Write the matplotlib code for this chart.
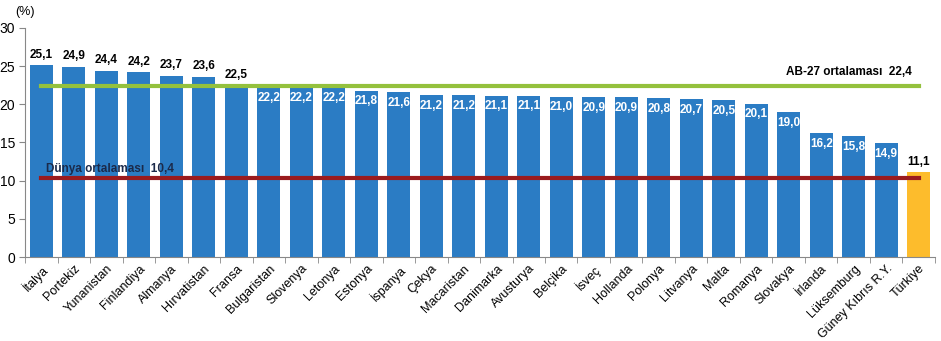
import numpy as np
import matplotlib
matplotlib.use('Agg')
from matplotlib import pyplot as plt

plt.rcParams['font.family'] = ['Liberation Sans', 'DejaVu Sans']

countries = ['İtalya', 'Portekiz', 'Yunanistan', 'Finlandiya', 'Almanya', 'Hırvatistan', 'Fransa',
             'Bulgaristan', 'Slovenya', 'Letonya', 'Estonya', 'İspanya', 'Çekya', 'Macaristan',
             'Danimarka', 'Avusturya', 'Belçika', 'İsveç', 'Hollanda', 'Polonya', 'Litvanya',
             'Malta', 'Romanya', 'Slovakya', 'İrlanda', 'Lüksemburg', 'Güney Kıbrıs R.Y.', 'Türkiye']
values = [25.1, 24.9, 24.4, 24.2, 23.7, 23.6, 22.5, 22.2, 22.2, 22.2, 21.8, 21.6, 21.2, 21.2,
          21.1, 21.1, 21.0, 20.9, 20.9, 20.8, 20.7, 20.5, 20.1, 19.0, 16.2, 15.8, 14.9, 11.1]
eu_avg = 22.4
world_avg = 10.4

blue = '#2B7CC4'
yellow = '#FDBC2C'
green = '#94C13D'
red = '#9A1B1E'

fig = plt.figure(figsize=(9.41, 3.41), dpi=100)
ax = fig.add_axes([0.0266, 0.2463, 0.9670, 0.6717])

x = np.arange(len(countries))
colors = [blue] * (len(countries) - 1) + [yellow]
ax.bar(x, values, width=0.71, color=colors, zorder=2)

ax.plot([x[0], x[-1]], [eu_avg, eu_avg], color=green, lw=3, zorder=3)
ax.plot([x[0], x[-1]], [world_avg, world_avg], color=red, lw=3, zorder=3)

ax.text(x[-1] - 0.2, eu_avg + 1.0, 'AB-27 ortalaması  22,4', ha='right', va='bottom',
        fontsize=8.5, fontweight='bold', color='black')
ax.text(x[0] + 0.15, world_avg + 0.3, 'Dünya ortalaması  10,4', ha='left', va='bottom',
        fontsize=8.5, fontweight='bold', color='#1B2A4A')

for i, v in enumerate(values):
    lab = f'{v:.1f}'.replace('.', ',')
    if i < 7 or i == len(values) - 1:
        ax.text(i, v + 0.6, lab, ha='center', va='bottom', fontsize=8.5, fontweight='bold', color='black')
    else:
        ax.text(i, v - 0.6, lab, ha='center', va='top', fontsize=8.5, fontweight='bold', color='white')

ax.set_xlim(-0.5, len(countries) - 0.5)
ax.set_ylim(0, 30)
ax.set_yticks(np.arange(0, 31, 5))
ax.set_xticks(x)
ax.set_xticklabels(countries, rotation=45, ha='right', rotation_mode='anchor', fontsize=9)
ax.tick_params(axis='x', length=0, pad=4)
ax.set_xticks(np.arange(-0.5, len(countries), 1), minor=True)
ax.tick_params(axis='x', which='minor', length=4, color='#888888')
ax.tick_params(axis='y', labelsize=10, length=4, color='#888888', pad=3)

for s in ['top', 'right']:
    ax.spines[s].set_visible(False)
for s in ['left', 'bottom']:
    ax.spines[s].set_color('#888888')

fig.text(0.016, 0.965, '(%)', fontsize=9, va='center', ha='left')

fig.savefig('out.png', dpi=100)
